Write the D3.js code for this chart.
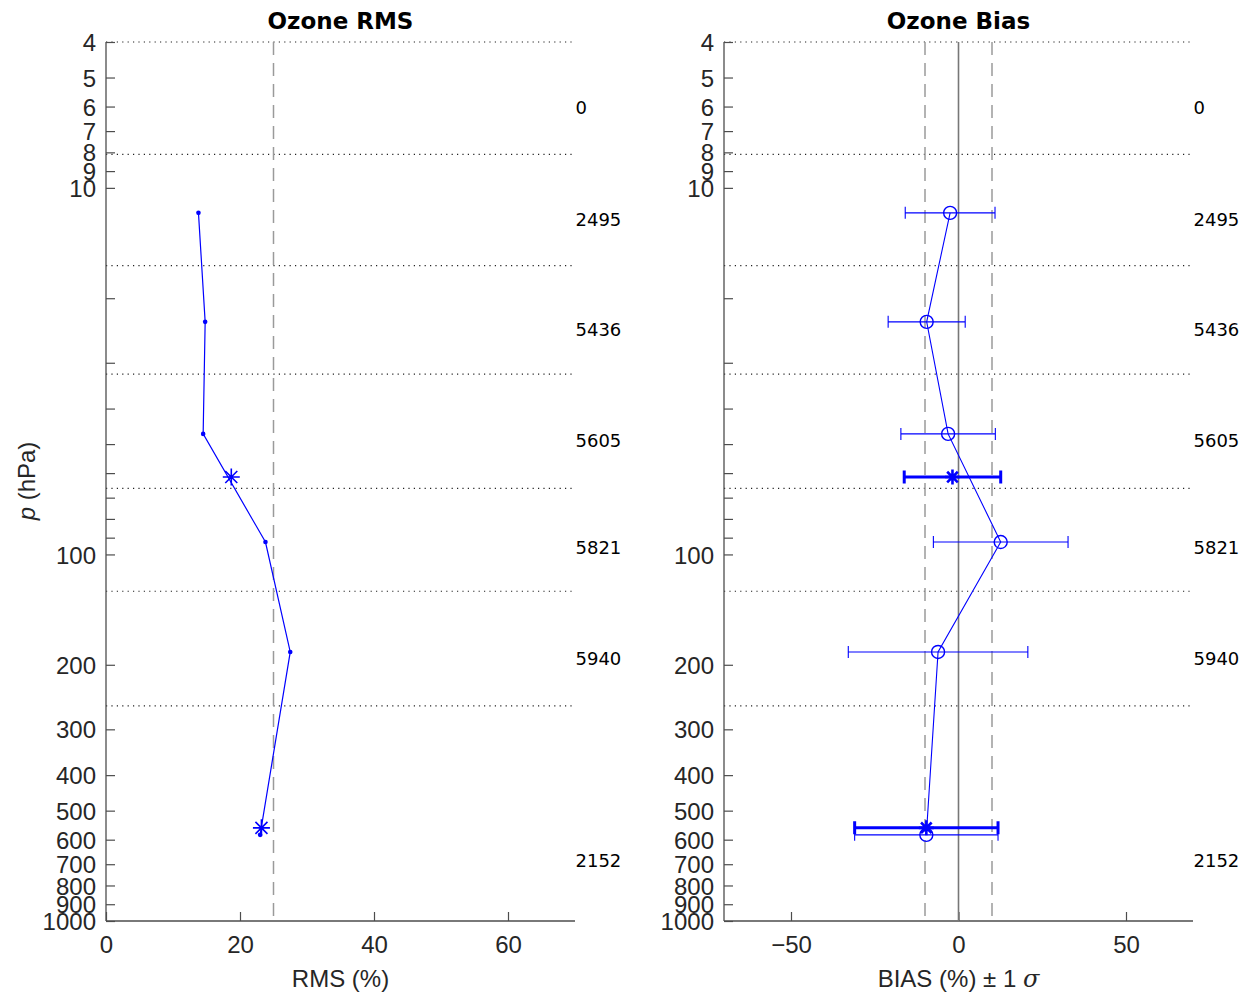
<!DOCTYPE html>
<html>
<head>
<meta charset="utf-8">
<script src="https://cdn.jsdelivr.net/npm/d3@7"></script>
<style>
  body { margin: 0; background: #fff; }
  svg { display: block; }
</style>
</head>
<body>
<svg id="chart" width="1246" height="992"></svg>
<script>
// ---- data ----
const pressure   = [11.7, 23.2, 46.9, 92.5, 184.5, 582];
const rms        = [13.8, 14.8, 14.5, 23.8, 27.5, 23.0];
const bias       = [-2.5, -9.5, -3.1, 12.6, -6.1, -9.6];
const biasSigma  = [13.4, 11.5, 14.1, 20.1, 26.8, 21.4];

const summaryP     = [61.5, 557];
const summaryRms   = [18.7, 23.2];
const summaryBias  = [-1.8, -9.6];
const summarySigma = [14.4, 21.4];

const layerBounds = [4, 8.1, 16.3, 32.2, 66, 126, 259];
const countP      = [6.05, 12.2, 24.3, 49.0, 96.0, 192.8, 686];
const counts      = ["0", "2495", "5436", "5605", "5821", "5940", "2152"];

const yTicks      = [4,5,6,7,8,9,10,20,30,40,50,60,70,80,90,100,200,300,400,500,600,700,800,900,1000];
const yTickLabels = [4,5,6,7,8,9,10,100,200,300,400,500,600,700,800,900,1000];
const rmsTicks    = [0, 20, 40, 60];
const biasTicks   = [-50, 0, 50];
const rmsRef      = [25];
const biasRef     = [-10, 10];

// ---- layout ----
const svg = d3.select("#chart");
const plotTop = 42, plotBottom = 921;
const y = d3.scaleLog().domain([4, 1000]).range([plotTop, plotBottom]);
const xL = d3.scaleLinear().domain([0, 70]).range([106, 575]);
const xR = d3.scaleLinear().domain([-70, 70]).range([724, 1193]);
const blue = "#0000ff";
const axisCol = "#4d4d4d";
const tickTextCol = "#262626";
const sansFont = "'Liberation Sans', Arial, sans-serif";
const dejavu = "'DejaVu Sans', sans-serif";

function starPath(cx, cy, r) {
  const d = r * Math.SQRT1_2;
  return `M${cx - r},${cy}L${cx + r},${cy}M${cx},${cy - r}L${cx},${cy + r}` +
         `M${cx - d},${cy - d}L${cx + d},${cy + d}M${cx - d},${cy + d}L${cx + d},${cy - d}`;
}

function panel(x, title, xTicks, xlabelFn) {
  const g = svg.append("g");
  const [x0, x1] = x.range();
  g.selectAll(".layer").data(layerBounds).join("line")
    .attr("x1", x0).attr("x2", x1)
    .attr("y1", d => y(d)).attr("y2", d => y(d))
    .attr("stroke", "#222").attr("stroke-width", 1.2)
    .attr("stroke-dasharray", "1.2,4.2");
  g.selectAll(".cnt").data(counts).join("text")
    .attr("x", x1 + 0.5).attr("y", (d, i) => y(countP[i]))
    .attr("dy", "0.36em").attr("fill", "#000")
    .style("font-family", dejavu).style("font-size", "18px")
    .text(d => d);
  const yAxis = d3.axisLeft(y).tickValues(yTicks).tickSize(-9).tickPadding(10)
    .tickFormat(d => yTickLabels.includes(d) ? d : "");
  const ya = g.append("g").attr("transform", `translate(${x0},0)`).call(yAxis);
  const xAxis = d3.axisBottom(x).tickValues(xTicks).tickSize(-9).tickPadding(15);
  const xa = g.append("g").attr("transform", `translate(0,${plotBottom})`).call(xAxis);
  ya.select(".domain").attr("d", `M0,${plotTop}V${plotBottom}`);
  xa.select(".domain").attr("d", `M${x0},0H${x1}`);
  [ya, xa].forEach(a => {
    a.select(".domain").attr("stroke", axisCol).attr("stroke-width", 1.3);
    a.selectAll(".tick line").attr("stroke", axisCol).attr("stroke-width", 1.2);
    a.selectAll(".tick text").attr("fill", tickTextCol)
      .style("font-family", sansFont).style("font-size", "24px");
  });
  ya.selectAll(".tick text").attr("dy", "0.36em");
  g.append("text").attr("x", (x0 + x1) / 2).attr("y", 28.5)
    .attr("text-anchor", "middle").attr("fill", "#000")
    .style("font-family", dejavu).style("font-size", "23px").style("font-weight", "bold")
    .text(title);
  xlabelFn(g.append("text").attr("x", (x0 + x1) / 2).attr("y", 987)
    .attr("text-anchor", "middle").attr("fill", tickTextCol)
    .style("font-family", sansFont).style("font-size", "24px"));
  return g;
}

// ---- left panel: RMS ----
const gL = panel(xL, "Ozone RMS", rmsTicks, t => t.text("RMS (%)"));
gL.selectAll(".ref").data(rmsRef).join("line")
  .attr("x1", d => xL(d)).attr("x2", d => xL(d)).attr("y1", plotTop).attr("y2", plotBottom)
  .attr("stroke", "#9a9a9a").attr("stroke-width", 1.5).attr("stroke-dasharray", "13,8");
const lineL = d3.line().x((d, i) => xL(rms[i])).y(d => y(d));
gL.append("path").attr("d", lineL(pressure)).attr("fill", "none")
  .attr("stroke", blue).attr("stroke-width", 1.2);
gL.selectAll(".dot").data(pressure).join("circle")
  .attr("cx", (d, i) => xL(rms[i])).attr("cy", d => y(d)).attr("r", 2.3).attr("fill", blue);
gL.selectAll(".star").data(summaryP).join("path")
  .attr("d", (d, i) => starPath(xL(summaryRms[i]), y(d), 8.5))
  .attr("stroke", blue).attr("stroke-width", 1.6).attr("fill", "none");

svg.append("text").attr("transform", "translate(35,481) rotate(-90)")
  .attr("text-anchor", "middle").attr("fill", tickTextCol)
  .style("font-family", sansFont).style("font-size", "24px")
  .call(t => {
    t.append("tspan").style("font-style", "italic").text("p");
    t.append("tspan").text(" (hPa)");
  });

// ---- right panel: Bias ----
const gR = panel(xR, "Ozone Bias", biasTicks, t => {
  t.append("tspan").text("BIAS (%) \u00b1 1 ");
  t.append("tspan").style("font-style", "italic").style("font-family", "'DejaVu Serif', serif").text("\u03c3");
});
gR.selectAll(".ref").data(biasRef).join("line")
  .attr("x1", d => xR(d)).attr("x2", d => xR(d)).attr("y1", plotTop).attr("y2", plotBottom)
  .attr("stroke", "#9a9a9a").attr("stroke-width", 1.5).attr("stroke-dasharray", "13,8");
gR.append("line").attr("x1", xR(0)).attr("x2", xR(0)).attr("y1", plotTop).attr("y2", plotBottom)
  .attr("stroke", "#777").attr("stroke-width", 1.6);

function errbar(g, xc, s, py, w, cap) {
  const yy = y(py), a = xR(xc - s), b = xR(xc + s);
  g.append("path")
    .attr("d", `M${a},${yy}H${b}M${a},${yy - cap}V${yy + cap}M${b},${yy - cap}V${yy + cap}`)
    .attr("stroke", blue).attr("stroke-width", w).attr("fill", "none");
}
pressure.forEach((p, i) => errbar(gR, bias[i], biasSigma[i], p, 1.1, 6));
const lineR = d3.line().x((d, i) => xR(bias[i])).y(d => y(d));
gR.append("path").attr("d", lineR(pressure)).attr("fill", "none")
  .attr("stroke", blue).attr("stroke-width", 1.1);
gR.selectAll(".circ").data(pressure).join("circle")
  .attr("cx", (d, i) => xR(bias[i])).attr("cy", d => y(d)).attr("r", 6.5)
  .attr("fill", "none").attr("stroke", blue).attr("stroke-width", 1.4);
summaryP.forEach((p, i) => errbar(gR, summaryBias[i], summarySigma[i], p, 3, 6.5));
gR.selectAll(".star").data(summaryP).join("path")
  .attr("d", (d, i) => starPath(xR(summaryBias[i]), y(d), 7.5))
  .attr("stroke", blue).attr("stroke-width", 2.6).attr("fill", "none");
</script>
</body>
</html>
